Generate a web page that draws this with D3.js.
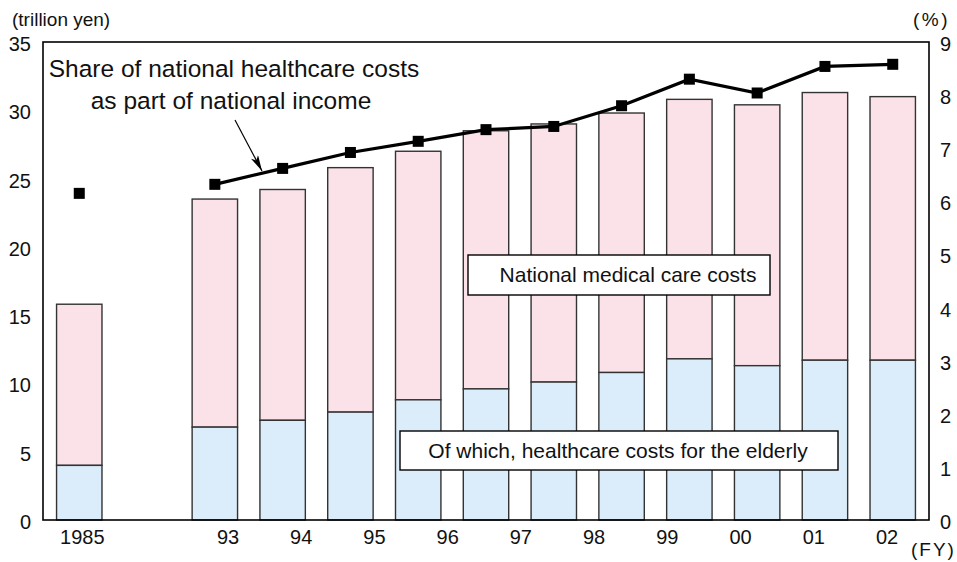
<!DOCTYPE html>
<html>
<head>
<meta charset="utf-8">
<script src="https://cdn.jsdelivr.net/npm/d3@7"></script>
<style>
  html, body { margin: 0; padding: 0; background: #fff; }
  svg { display: block; }
  text { font-family: "Liberation Sans", Arial, Helvetica, sans-serif; fill: #111; }
</style>
</head>
<body>
<svg id="chart" width="957" height="562"></svg>
<script>
// Fiscal years shown as bars (1985, then 1992 through 2002)
const fiscalYears = [1985, 1992, 1993, 1994, 1995, 1996, 1997, 1998, 1999, 2000, 2001, 2002];
// National medical care costs (trillion yen)
const medicalCosts = [15.8, 23.5, 24.2, 25.8, 27.0, 28.5, 29.0, 29.8, 30.8, 30.4, 31.3, 31.0];
// Of which, healthcare costs for the elderly (trillion yen)
const elderlyCosts = [4.0, 6.8, 7.3, 7.9, 8.8, 9.6, 10.1, 10.8, 11.8, 11.3, 11.7, 11.7];
// Share of national healthcare costs in national income (%)
const incomeShare = [6.15, 6.32, 6.62, 6.92, 7.13, 7.35, 7.41, 7.80, 8.30, 8.04, 8.54, 8.58];
// Axis tick labels
const leftTicks = [0, 5, 10, 15, 20, 25, 30, 35];
const rightTicks = [0, 1, 2, 3, 4, 5, 6, 7, 8, 9];
const xTickLabels = ["1985", "93", "94", "95", "96", "97", "98", "99", "00", "01", "02"];

const svg = d3.select("#chart");
const margin = { top: 42, right: 28, bottom: 42, left: 43 };
const W = 957 - margin.left - margin.right;
const H = 562 - margin.top - margin.bottom;
const g = svg.append("g").attr("transform", `translate(${margin.left},${margin.top})`);

// Slot 0 holds 1985, slot 1 is left empty, slots 2.. hold 1992 onward
const slotOf = y => (y === 1985 ? 0 : y - 1990);
const x = d3.scaleBand().domain(d3.range(13)).range([0, W]).paddingInner(0.33).paddingOuter(0.2);
const yL = d3.scaleLinear().domain([0, 35]).range([H, 0]);
const yR = d3.scaleLinear().domain([0, 9]).range([H, 0]);

const rows = fiscalYears.map((yr, i) => ({
  yr, total: medicalCosts[i], elderly: elderlyCosts[i], share: incomeShare[i]
}));

// Stacked bars: elderly part (blue) under the rest of total costs (pink)
const bars = g.append("g");
bars.selectAll("rect.total").data(rows).join("rect")
  .attr("class", "total")
  .attr("x", d => x(slotOf(d.yr)))
  .attr("width", x.bandwidth())
  .attr("y", d => yL(d.total))
  .attr("height", d => yL(d.elderly) - yL(d.total))
  .attr("fill", "#fbe2e8")
  .attr("stroke", "#333").attr("stroke-width", 1.4);
bars.selectAll("rect.elderly").data(rows).join("rect")
  .attr("class", "elderly")
  .attr("x", d => x(slotOf(d.yr)))
  .attr("width", x.bandwidth())
  .attr("y", d => yL(d.elderly))
  .attr("height", d => yL(0) - yL(d.elderly))
  .attr("fill", "#dbedfa")
  .attr("stroke", "#333").attr("stroke-width", 1.4);

// Plot frame
g.append("rect").attr("x", 0).attr("y", 0).attr("width", W).attr("height", H)
  .attr("fill", "none").attr("stroke", "#000").attr("stroke-width", 1.6);

// Left axis labels
g.append("g").selectAll("text").data(leftTicks).join("text")
  .attr("x", -12).attr("y", d => yL(d) + 2)
  .attr("dy", "0.35em").attr("text-anchor", "end")
  .style("font-size", "20px").text(d => d);
// Right axis labels
g.append("g").selectAll("text").data(rightTicks).join("text")
  .attr("x", W + 11).attr("y", d => yR(d) + 2)
  .attr("dy", "0.35em").attr("text-anchor", "start")
  .style("font-size", "20px").text(d => d);

// Category labels along the bottom
const cx = d => x(slotOf(d)) + x.bandwidth() / 2;
const labelPos = d3.scalePoint().domain(xTickLabels.slice(1)).range([185, 844]);
g.append("g").selectAll("text").data(xTickLabels).join("text")
  .attr("x", (d, i) => i === 0 ? cx(1985) + 3 : labelPos(d))
  .attr("y", H + 24).attr("text-anchor", "middle")
  .style("font-size", "20px").text(d => d);

// Unit labels
svg.append("text").attr("x", 12).attr("y", 26).style("font-size", "19px").text("(trillion yen)");
svg.append("text").attr("x", 913).attr("y", 26).style("font-size", "19px")
  .style("letter-spacing", "2.5px").text("(%)");
svg.append("text").attr("x", 911).attr("y", 556).style("font-size", "19px")
  .style("letter-spacing", "2px").text("(FY)");

// Share of national income line (1992 onward) and markers
const line = d3.line().x(d => cx(d.yr)).y(d => yR(d.share));
g.append("path").datum(rows.filter(d => d.yr >= 1992))
  .attr("d", line).attr("fill", "none").attr("stroke", "#000").attr("stroke-width", 3.2);
const mk = 11;
g.append("g").selectAll("rect").data(rows).join("rect")
  .attr("x", d => cx(d.yr) - mk / 2).attr("y", d => yR(d.share) - mk / 2)
  .attr("width", mk).attr("height", mk).attr("fill", "#000");

// Legend boxes
function labelBox(x0, y0, w, h, txt, tx) {
  svg.append("rect").attr("x", x0).attr("y", y0).attr("width", w).attr("height", h)
    .attr("fill", "#fff").attr("stroke", "#000").attr("stroke-width", 1.4);
  svg.append("text").attr("x", tx).attr("y", y0 + h / 2).attr("dy", "0.35em")
    .attr("text-anchor", "middle").style("font-size", "21px").text(txt);
}
labelBox(468, 255, 302, 40, "National medical care costs", 628);
labelBox(400, 431, 438, 39, "Of which, healthcare costs for the elderly", 618);

// Annotation for the line
const note = svg.append("text").attr("text-anchor", "middle").style("font-size", "24.5px");
note.append("tspan").attr("x", 234).attr("y", 77).text("Share of national healthcare costs");
note.append("tspan").attr("x", 231).attr("y", 109).text("as part of national income");

const defs = svg.append("defs");
defs.append("marker").attr("id", "head").attr("viewBox", "0 0 16 8")
  .attr("refX", 16).attr("refY", 4).attr("markerWidth", 16).attr("markerHeight", 8)
  .attr("markerUnits", "userSpaceOnUse").attr("orient", "auto")
  .append("path").attr("d", "M0,0 L16,4 L0,8 L4,4 Z").attr("fill", "#000");
svg.append("line").attr("x1", 235).attr("y1", 120).attr("x2", 262).attr("y2", 171)
  .attr("stroke", "#000").attr("stroke-width", 1.2).attr("marker-end", "url(#head)");
</script>
</body>
</html>
